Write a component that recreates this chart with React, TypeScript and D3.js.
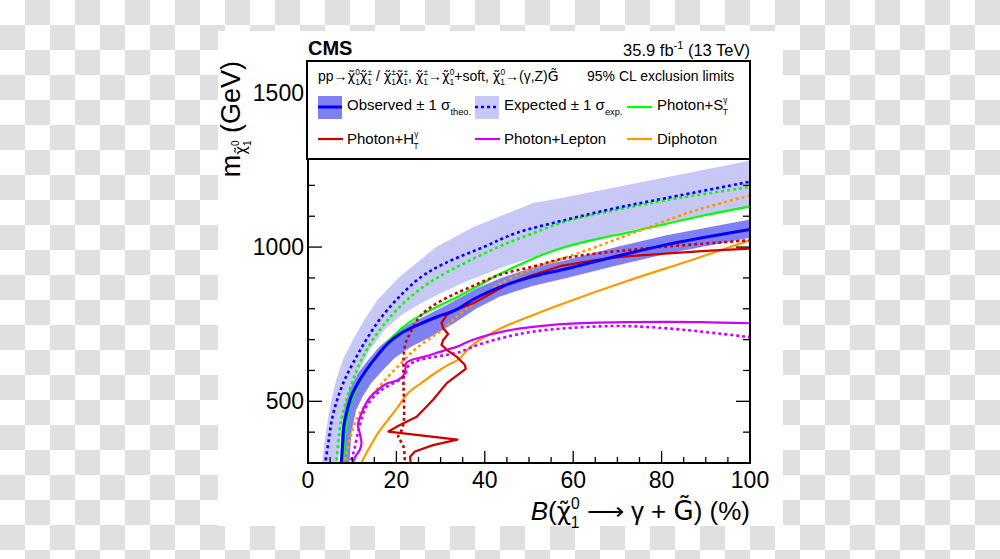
import React from 'react';
import * as d3 from 'd3';

type P = [number, number];

// ---------- data (B in %, m in GeV) ----------
const xMajorTicks = [0, 20, 40, 60, 80, 100];
const yMajorTicks = [500, 1000, 1500];

const expectedBandUpper: P[] = [[3.0,290],[3.2,300],[3.8,375],[4.5,440],[5.3,505],[6.4,570],[7.9,635],[10.2,700],[12.8,765],[15.8,830],[20.8,905],[29,1000],[37.4,1065],[51,1143],[57,1158],[100,1280]];
const expectedBandLower: P[] = [[6.6,290],[6.8,300],[7.5,400],[8.7,505],[11.3,591],[14,667],[17.3,732],[21.1,780],[24.9,813],[30,850],[36,890],[45,940],[57,993],[70,1045],[85,1090],[100,1127]];
const observedBandUpper: P[] = [[7.0,290],[7.2,300],[7.5,396],[8.3,483],[9.4,537],[11.3,591],[13.6,634],[16.2,678],[18.9,710],[22.6,748],[27.1,781],[31.7,815],[38,865],[43.4,898],[51,935],[58.5,958],[69.8,1000],[81.1,1038],[100,1089]];
const observedBandLower: P[] = [[9.2,290],[9.4,300],[9.8,396],[10.9,472],[12.4,516],[14.3,559],[16.6,596],[19.6,640],[23.4,678],[27.9,710],[33.2,755],[38,800],[43.4,840],[51,875],[58.5,900],[69.8,940],[81.1,978],[100,1030]];
const observed: P[] = [[7.3,290],[7.5,300],[7.9,375],[8.1,418],[8.9,472],[9.8,516],[11.3,559],[13.2,602],[15.5,645],[18.1,688],[21.1,721],[24.9,748],[29.4,775],[33.2,795],[38,835],[43.4,870],[51,905],[58.5,930],[69.8,970],[81.1,1008],[100,1057]];
const expected: P[] = [[3.8,290],[3.9,300],[4.7,375],[5.4,440],[6.6,505],[8.3,570],[10.6,635],[13.2,700],[16.2,765],[20.2,832],[25.3,900],[30.6,945],[40,1002],[47.2,1046],[58.5,1089],[69.8,1127],[81.1,1159],[100,1212]];
const photonStObs: P[] = [[7.9,290],[8.0,300],[8.3,375],[8.7,418],[9.2,472],[10.2,516],[11.3,553],[12.8,591],[14.7,629],[17,672],[19.6,716],[22.6,753],[26.4,786],[30,812],[34,840],[38.2,872],[43,910],[48.7,948],[53,975],[58.5,1002],[66,1028],[73.6,1051],[88.7,1100],[100,1132]];
const photonStExp: P[] = [[6.3,290],[6.4,300],[6.9,375],[7.5,440],[8.7,505],[10.2,570],[12.1,635],[14.7,700],[18.1,765],[22.5,830],[28,890],[35,945],[43,1000],[50,1040],[58.5,1084],[70,1121],[81,1152],[100,1195]];
const photonHtObs: P[] = [[23.2,290],[23.2,301],[23.1,320],[24.2,337],[28.3,358],[33.8,376],[18.2,402],[20.8,423],[24.6,450],[28.3,505],[31.4,559],[34.4,591],[35.7,605],[35.5,618],[33.6,645],[31.4,667],[30.2,683],[30.6,699],[31.7,718],[30.6,737],[30.2,754],[31.4,780],[33.6,797],[37.4,818],[40,838],[45,878],[50,905],[57,938],[65,958],[72,970],[80,978],[90,988],[100,995]];
const photonHtExp: P[] = [[21.9,290],[21.9,301],[21.6,353],[20.8,375],[20.4,385],[21.2,407],[21.7,440],[21.7,505],[21.6,569],[21.9,678],[23.1,721],[25.3,775],[28.3,810],[32,840],[35.9,865],[43.4,910],[51,937],[58.5,965],[73.6,992],[100,1022]];
const photonLepObs: P[] = [[10.2,290],[10.2,300],[10.6,318],[11.7,342],[12.1,364],[11.7,397],[11.3,423],[12.1,461],[13.6,505],[15.8,537],[18.1,559],[20.4,569],[21.9,591],[22.2,624],[23.4,634],[26.4,645],[30.2,662],[33.9,678],[37.2,699],[46.2,732],[58.5,751],[73.6,757],[88.7,757],[100,753]];
const photonLepExp: P[] = [[9.5,290],[9.6,300],[10.4,340],[11.0,380],[11.5,410],[12.8,472],[14.3,505],[16.2,532],[18.5,553],[20.7,569],[21.9,585],[22.6,613],[24.1,629],[27.1,640],[30.2,648],[33.9,658],[39.7,689],[51,726],[66.1,743],[73.6,743],[84.9,732],[100,708]];
const diphotonObs: P[] = [[12.0,290],[12.1,300],[13.6,342],[15.8,396],[18.1,440],[20.4,483],[22.6,526],[25.6,559],[28.7,591],[31.7,618],[33.9,634],[37,680],[43.4,735],[51,780],[57,813],[72,889],[87,959],[100,1022]];
const diphotonExp: P[] = [[8.2,290],[8.3,300],[8.9,342],[9.8,396],[11.3,450],[13.2,494],[15.5,537],[18.1,580],[21.1,624],[24.1,667],[27.1,699],[30.2,730],[34,780],[38,822],[43.4,880],[50,925],[57,960],[66,1005],[74.4,1050],[87,1116],[100,1167]];

// ---------- style ----------
const FONT = 'Liberation Sans, Arial, Helvetica, sans-serif';
const MARKFONT = 'DejaVu Sans';
const C_BLUE = '#0000ff';
const C_DARKBAND = '#8080f5';
const C_LIGHTBAND = '#c8c8f7';
const C_GREEN = '#00ff00';
const C_RED = '#cc0000';
const C_MAGENTA = '#cc00ff';
const C_ORANGE = '#ff9900';

// ---------- rich text builder ----------
type Tok = { t: string; dx: number; dy: number; size?: number; italic?: boolean; family?: string };
class TB {
  toks: Tok[] = [];
  off = 0;
  pdx = 0;
  add(t: string, o: { off?: number; size?: number; dx?: number; italic?: boolean; family?: string } = {}) {
    const off = o.off ?? 0;
    this.toks.push({ t, dy: off - this.off, dx: this.pdx + (o.dx ?? 0), size: o.size, italic: o.italic, family: o.family });
    this.off = off;
    this.pdx = 0;
    return this;
  }
  scripts(sup: string | null, sub: string | null, size: number, baseOff: number, ss: number) {
    if (sup && sub) {
      this.add(sup, { off: baseOff - 0.44 * size, size: ss });
      this.pdx = -ss * 0.57 * sup.length;
      this.add(sub, { off: baseOff + 0.3 * size, size: ss });
    } else if (sup) {
      this.add(sup, { off: baseOff - 0.42 * size, size: ss });
    } else if (sub) {
      this.add(sub, { off: baseOff + 0.3 * size, size: ss });
    }
    return this;
  }
  chi(size: number, sup: string | null, sub: string | null, baseOff = 0, ss?: number) {
    this.add('\u03C7\u0303', { off: baseOff, size: size * 0.95, family: MARKFONT });
    this.scripts(sup, sub, size, baseOff, ss ?? size * 0.6);
    return this;
  }
  render(k: string) {
    return this.toks.map((q, i) => (
      <tspan key={k + i} dx={q.dx || undefined} dy={q.dy || undefined} fontSize={q.size}
        fontStyle={q.italic ? 'italic' : undefined} fontFamily={q.family}>{q.t}</tspan>
    ));
  }
}

function processText(fs: number) {
  const b = new TB();
  b.add('pp\u2192', { size: fs }).chi(fs, '0', '1');
  b.chi(fs, '\u00B1', '1');
  b.add(' / ', { size: fs }).chi(fs, '\u00B1', '1');
  b.chi(fs, '\u00B1', '1');
  b.add(', ', { size: fs }).chi(fs, '\u00B1', '1');
  b.add('\u2192', { size: fs }).chi(fs, '0', '1');
  b.add('+soft, ', { size: fs }).chi(fs, '0', '1');
  b.add('\u2192(\u03B3,Z)', { size: fs });
  b.add('G\u0303', { size: fs, family: MARKFONT });
  return b;
}

function xTitle(fs: number) {
  const b = new TB();
  b.add('B', { size: fs, italic: true });
  b.add('(', { size: fs }).chi(fs, '0', '1');
  b.add(' \u27F6 \u03B3 + ', { size: fs });
  b.add('G\u0303', { size: fs, family: MARKFONT });
  b.add(') (%)', { size: fs });
  return b;
}

function yTitle(fs: number) {
  const b = new TB();
  b.add('m', { size: fs });
  b.chi(16, '0', '1', 6, 10);
  b.add(' (GeV)', { size: fs });
  return b;
}

function withSub(main: string, sub: string, fs: number) {
  const b = new TB();
  b.add(main, { size: fs });
  b.scripts(null, sub, fs, 0, fs * 0.62);
  return b;
}

function withSupSub(main: string, sup: string, sub: string, fs: number) {
  const b = new TB();
  b.add(main, { size: fs });
  b.scripts(sup, sub, fs, 0, fs * 0.55);
  return b;
}

export default function App() {
  const W = 1000, H = 559;
  const L = 308, R = 750, T = 62, B = 463;
  const x = d3.scaleLinear().domain([0, 100]).range([L, R]);
  const y = d3.scaleLinear().domain([300, 1600]).range([B, T]);

  const smooth = d3.line<P>().x(d => x(d[0])).y(d => y(d[1])).curve(d3.curveCatmullRom.alpha(0.5));
  const straight = d3.line<P>().x(d => x(d[0])).y(d => y(d[1]));
  const band = (up: P[], lo: P[]) =>
    d3.line<P>().x(d => x(d[0])).y(d => y(d[1])).curve(d3.curveLinearClosed)([...up, ...lo.slice().reverse()]) || '';

  const xMinor = x.ticks(20);
  const yMinor = y.ticks(13);

  const dotted = '3 3';
  const lw = 2.2;
  const dw = 2.6;

  const lumi = new TB();
  lumi.add('35.9 fb', { size: 16.5 }).scripts('-1', null, 16.5, 0, 11);
  lumi.add(' (13 TeV)', { size: 16.5 });

  return (
    <svg width={W} height={H} style={{ position: 'absolute', left: 0, top: 0 }} fontFamily={FONT}>
      <defs>
        <pattern id="checker" width={50} height={50} patternUnits="userSpaceOnUse">
          <rect width={50} height={50} fill="#ffffff" />
          <rect x={25} y={0} width={25} height={25} fill="#e0e0e0" />
          <rect x={0} y={25} width={25} height={25} fill="#e0e0e0" />
        </pattern>
        <clipPath id="plotclip">
          <rect x={L} y={T} width={R - L} height={B - T} />
        </clipPath>
      </defs>
      <rect width={W} height={H} fill="url(#checker)" />
      <rect x={218} y={31} width={565} height={495} fill="#ffffff" />

      <g clipPath="url(#plotclip)">
        <path d={band(expectedBandUpper, expectedBandLower)} fill={C_LIGHTBAND} />
        <path d={band(observedBandUpper, observedBandLower)} fill={C_DARKBAND} />

        <path d={smooth(photonStExp) || ''} fill="none" stroke={C_GREEN} strokeWidth={dw} strokeDasharray={dotted} />
        <path d={smooth(photonStObs) || ''} fill="none" stroke={C_GREEN} strokeWidth={lw} />
        <path d={smooth(diphotonExp) || ''} fill="none" stroke={C_ORANGE} strokeWidth={dw} strokeDasharray={dotted} />
        <path d={smooth(diphotonObs) || ''} fill="none" stroke={C_ORANGE} strokeWidth={lw} />
        <path d={smooth(photonLepExp) || ''} fill="none" stroke={C_MAGENTA} strokeWidth={dw} strokeDasharray={dotted} />
        <path d={smooth(photonLepObs) || ''} fill="none" stroke={C_MAGENTA} strokeWidth={lw} />
        <path d={smooth(photonHtExp) || ''} fill="none" stroke={C_RED} strokeWidth={dw} strokeDasharray={dotted} />
        <path d={straight(photonHtObs) || ''} fill="none" stroke={C_RED} strokeWidth={lw} strokeLinejoin="round" />
        <path d={smooth(expected) || ''} fill="none" stroke={C_BLUE} strokeWidth={dw} strokeDasharray={dotted} />
        <path d={smooth(observed) || ''} fill="none" stroke={C_BLUE} strokeWidth={3} />
      </g>

      {/* ticks */}
      <g stroke="#000" strokeWidth={1.3}>
        {xMinor.map(v => {
          const major = xMajorTicks.includes(v);
          const len = major ? 12 : 6;
          return <line key={'xb' + v} x1={x(v)} x2={x(v)} y1={B} y2={B - len} />;
        })}
        {yMinor.map(v => {
          const major = yMajorTicks.includes(v);
          const len = major ? 14 : 7;
          return (
            <g key={'y' + v}>
              <line x1={L} x2={L + len} y1={y(v)} y2={y(v)} />
              <line x1={R} x2={R - len} y1={y(v)} y2={y(v)} />
            </g>
          );
        })}
      </g>
      <rect x={L} y={T} width={R - L} height={B - T} fill="none" stroke="#000" strokeWidth={2} />

      {/* tick labels */}
      <g fontSize={23} fill="#000">
        {xMajorTicks.map(v => (
          <text key={'xl' + v} x={x(v)} y={488} textAnchor="middle">{v}</text>
        ))}
        {yMajorTicks.map(v => (
          <text key={'yl' + v} x={L - 4} y={y(v) + 8} textAnchor="end">{v}</text>
        ))}
      </g>

      {/* axis titles */}
      <text x={R} y={520} fontSize={26} textAnchor="end">{xTitle(26).render('xt')}</text>
      <text transform={`translate(240,61) rotate(-90)`} fontSize={27} textAnchor="end">{yTitle(27).render('yt')}</text>

      {/* header */}
      <text x={L} y={55} fontSize={20} fontWeight="bold">CMS</text>
      <text x={R} y={56} fontSize={16.5} textAnchor="end">{lumi.render('lumi')}</text>

      {/* legend */}
      <rect x={307} y={61} width={443} height={98} fill="#fff" stroke="#000" strokeWidth={2} />
      <text x={318} y={81} fontSize={14}>{processText(14).render('l1')}</text>
      <text x={587} y={81} fontSize={14}>95% CL exclusion limits</text>

      <rect x={318} y={96} width={24} height={23} fill={C_DARKBAND} />
      <line x1={318} x2={342} y1={107} y2={107} stroke={C_BLUE} strokeWidth={3} />
      <text x={347} y={110} fontSize={15}>{withSub('Observed \u00B1 1 \u03C3', 'theo.', 15).render('ob')}</text>

      <rect x={475} y={96} width={24} height={23} fill={C_LIGHTBAND} />
      <line x1={475} x2={499} y1={107} y2={107} stroke={C_BLUE} strokeWidth={dw} strokeDasharray={dotted} />
      <text x={504} y={110} fontSize={15}>{withSub('Expected \u00B1 1 \u03C3', 'exp.', 15).render('ex')}</text>

      <line x1={627} x2={652} y1={107} y2={107} stroke={C_GREEN} strokeWidth={lw} />
      <text x={657} y={110} fontSize={15}>{withSupSub('Photon+S', '\u03B3', 'T', 15).render('st')}</text>

      <line x1={318} x2={343} y1={139} y2={139} stroke={C_RED} strokeWidth={lw} />
      <text x={347} y={144} fontSize={15}>{withSupSub('Photon+H', '\u03B3', 'T', 15).render('ht')}</text>

      <line x1={475} x2={500} y1={139} y2={139} stroke={C_MAGENTA} strokeWidth={lw} />
      <text x={504} y={144} fontSize={15}>Photon+Lepton</text>

      <line x1={627} x2={652} y1={139} y2={139} stroke={C_ORANGE} strokeWidth={lw} />
      <text x={657} y={144} fontSize={15}>Diphoton</text>
    </svg>
  );
}
